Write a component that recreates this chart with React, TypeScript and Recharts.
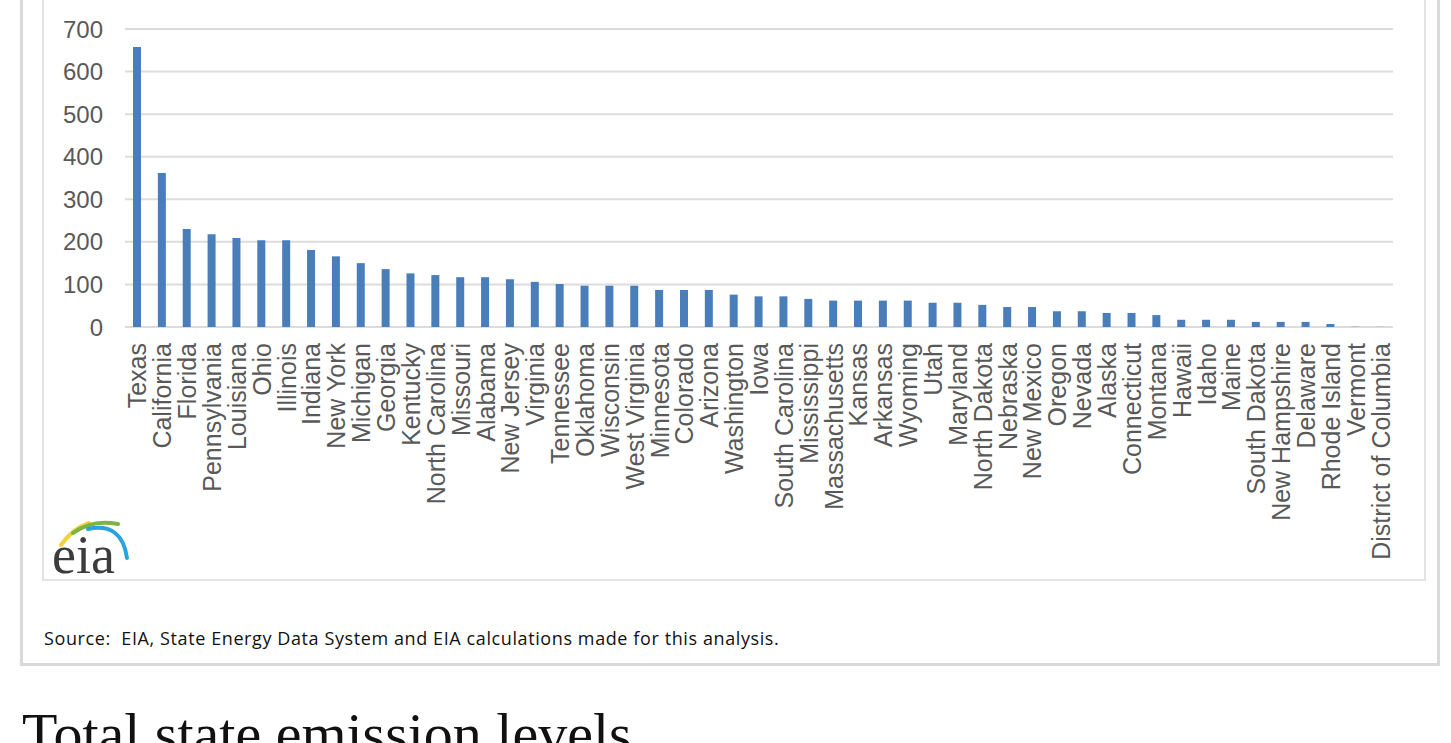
import { BarChart, Bar, XAxis, YAxis, CartesianGrid } from 'recharts';

const states = [
  'Texas', 'California', 'Florida', 'Pennsylvania', 'Louisiana', 'Ohio', 'Illinois',
  'Indiana', 'New York', 'Michigan', 'Georgia', 'Kentucky', 'North Carolina', 'Missouri',
  'Alabama', 'New Jersey', 'Virginia', 'Tennessee', 'Oklahoma', 'Wisconsin',
  'West Virginia', 'Minnesota', 'Colorado', 'Arizona', 'Washington', 'Iowa',
  'South Carolina', 'Mississippi', 'Massachusetts', 'Kansas', 'Arkansas', 'Wyoming',
  'Utah', 'Maryland', 'North Dakota', 'Nebraska', 'New Mexico', 'Oregon', 'Nevada',
  'Alaska', 'Connecticut', 'Montana', 'Hawaii', 'Idaho', 'Maine', 'South Dakota',
  'New Hampshire', 'Delaware', 'Rhode Island', 'Vermont', 'District of Columbia',
];

const emissions = [
  658, 362, 230, 218, 209, 204, 204,
  181, 166, 150, 136, 126, 122, 117,
  117, 112, 106, 101, 97, 97,
  97, 87, 87, 87, 76, 72,
  72, 66, 62, 62, 62, 62,
  57, 57, 52, 47, 47, 37, 37,
  33, 33, 28, 17, 17, 17, 12,
  12, 12, 7, 0.6, 0.4,
];

const yTicks = [0, 100, 200, 300, 400, 500, 600, 700];

const data = states.map((state, i) => ({ state, value: emissions[i] }));

const FONT = '"Liberation Sans", Arial, sans-serif';
const GRAY = '#595959';

function StateTick(props: any) {
  const { x, payload } = props;
  return (
    <text
      x={x}
      y={343}
      transform={`rotate(-90, ${x}, 343)`}
      textAnchor="end"
      dy="0.36em"
      fill={GRAY}
      fontSize={25}
      fontFamily={FONT}
    >
      {payload.value}
    </text>
  );
}

// eia logo in the lower left corner of the chart frame
function EiaLogo() {
  return (
    <svg
      width={110}
      height={80}
      style={{ position: 'absolute', left: 46, top: 508, overflow: 'visible' }}
    >
      <path d="M15 37 Q26 21 43 15" stroke="#f2d23c" strokeWidth={4} fill="none" strokeLinecap="round" />
      <path d="M27 25 Q46 11 72 16" stroke="#7cb342" strokeWidth={4} fill="none" strokeLinecap="round" />
      <path d="M42 21 Q76 14 81 50" stroke="#29a3df" strokeWidth={4} fill="none" strokeLinecap="round" />
      <text x={6} y={65} fontFamily='"Liberation Serif", "DejaVu Serif", serif' fontSize={54} fill="#3c3c3c">
        eia
      </text>
    </svg>
  );
}

export default function App() {
  return (
    <div style={{ position: 'absolute', left: 0, top: 0, width: 1451, height: 743, overflow: 'hidden', background: '#fff' }}>
      {/* outer frame */}
      <div
        style={{
          position: 'absolute',
          left: 20,
          top: -20,
          width: 1414,
          height: 680,
          border: '3px solid #d9d9d9',
        }}
      />
      {/* inner chart frame */}
      <div
        style={{
          position: 'absolute',
          left: 42,
          top: -20,
          width: 1380,
          height: 597,
          border: '2px solid #e3e3e3',
        }}
      />
      <div style={{ position: 'absolute', left: 0, top: 0 }}>
        <BarChart
          width={1451}
          height={600}
          data={data}
          margin={{ top: 29, right: 58, left: 0, bottom: 33 }}
          barCategoryGap={0}
        >
          <CartesianGrid vertical={false} stroke="#dcdcdc" strokeWidth={2} />
          <XAxis
            dataKey="state"
            interval={0}
            axisLine={false}
            tickLine={false}
            height={240}
            tick={<StateTick />}
          />
          <YAxis
            width={125}
            domain={[0, 700]}
            ticks={yTicks}
            axisLine={false}
            tickLine={false}
            tickMargin={16}
            tick={{ fill: GRAY, fontSize: 24, fontFamily: FONT }}
          />
          <Bar dataKey="value" fill="#4a7ebb" barSize={8} isAnimationActive={false} />
        </BarChart>
      </div>
      <EiaLogo />
      <div
        style={{
          position: 'absolute',
          left: 44,
          top: 626,
          fontFamily: '"Open Sans", sans-serif',
          fontSize: 18,
          letterSpacing: 0.6,
          color: '#111',
          whiteSpace: 'pre',
        }}
      >
        {'Source:  EIA, State Energy Data System and EIA calculations made for this analysis.'}
      </div>
      <div
        style={{
          position: 'absolute',
          left: 22,
          top: 700,
          fontFamily: '"Liberation Serif", "Times New Roman", serif',
          fontSize: 58,
          color: '#111',
          whiteSpace: 'nowrap',
        }}
      >
        Total state emission levels
      </div>
    </div>
  );
}
